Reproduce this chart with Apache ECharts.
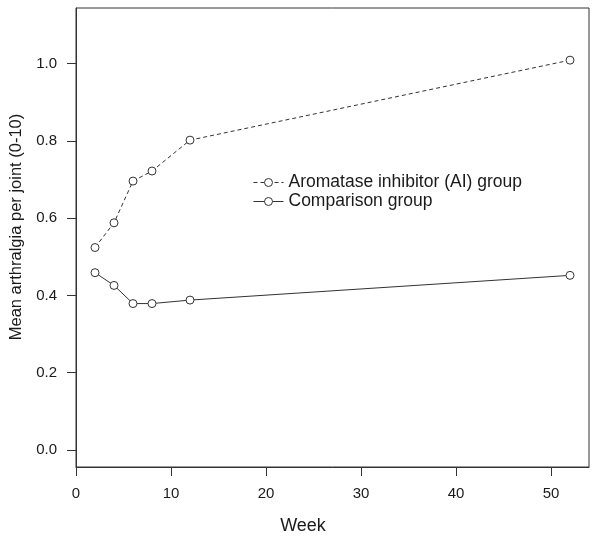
<!DOCTYPE html>
<html>
<head>
<meta charset="utf-8">
<script src="https://cdn.jsdelivr.net/npm/echarts@6/dist/echarts.min.js"></script>
<style>
html,body{margin:0;padding:0;background:#fff;}
#chart{width:600px;height:539px;}
</style>
</head>
<body>
<div id="chart"></div>
<script>
var weeks = [2, 4, 6, 8, 12, 52];
var aiGroup = [0.524, 0.588, 0.696, 0.722, 0.802, 1.009];
var comparisonGroup = [0.459, 0.426, 0.379, 0.379, 0.388, 0.452];
var seriesNames = ['Aromatase inhibitor (AI) group', 'Comparison group'];
var xTicks = [0, 10, 20, 30, 40, 50];
var yTicks = [0, 0.2, 0.4, 0.6, 0.8, 1.0];
var xTitle = 'Week';
var yTitle = 'Mean arthralgia per joint (0-10)';

function pairs(xs, ys) { return xs.map(function (x, i) { return [x, ys[i]]; }); }

var FONT = '"Liberation Sans", Arial, sans-serif';
var INK = '#333';
var TXT = '#1a1a1a';

var chart = echarts.init(document.getElementById('chart'), null, {renderer: 'canvas'});
chart.setOption({
  animation: false,
  backgroundColor: '#fff',
  textStyle: {fontFamily: FONT},
  grid: {left: 76, right: 11, top: 8, bottom: 72, show: true, borderColor: INK, borderWidth: 1, containLabel: false},
  xAxis: {
    type: 'value', min: 0, max: 54,
    axisLine: {show: true, onZero: false, lineStyle: {color: INK, width: 1}},
    axisTick: {show: true, length: 9, inside: false, customValues: xTicks, lineStyle: {color: INK}},
    axisLabel: {customValues: xTicks, margin: 19, fontSize: 15, color: TXT, fontFamily: FONT},
    splitLine: {show: false}
  },
  yAxis: {
    type: 'value', min: -0.044, max: 1.144,
    axisLine: {show: true, onZero: false, lineStyle: {color: INK, width: 1}},
    axisTick: {show: true, length: 9, inside: false, customValues: yTicks, lineStyle: {color: INK}},
    axisLabel: {customValues: yTicks, margin: 19, fontSize: 15, color: TXT, fontFamily: FONT,
      formatter: function (v) { return v.toFixed(1); }},
    splitLine: {show: false}
  },
  legend: {
    orient: 'vertical', left: 248, top: 168, itemWidth: 30, itemHeight: 10, itemGap: 0,
    lineStyle: {width: 1},
    itemStyle: {borderWidth: 1},
    textStyle: {fontSize: 17.5, color: TXT, fontFamily: FONT, lineHeight: 19},
    data: seriesNames
  },
  graphic: [
    {type: 'text', x: 303, y: 526, style: {text: xTitle, fontSize: 18, fill: TXT, fontFamily: FONT, align: 'center', verticalAlign: 'middle'}},
    {type: 'text', x: 16, y: 227, rotation: Math.PI / 2, style: {text: yTitle, fontSize: 16.5, fill: TXT, fontFamily: FONT, align: 'center', verticalAlign: 'middle'}}
  ],
  series: [
    {
      name: seriesNames[0], type: 'line', data: pairs(weeks, aiGroup),
      symbol: 'circle', symbolSize: 8,
      lineStyle: {color: INK, width: 1, type: [4, 3]},
      itemStyle: {color: '#fff', borderColor: INK, borderWidth: 1}
    },
    {
      name: seriesNames[1], type: 'line', data: pairs(weeks, comparisonGroup),
      symbol: 'circle', symbolSize: 8,
      lineStyle: {color: INK, width: 1, type: 'solid'},
      itemStyle: {color: '#fff', borderColor: INK, borderWidth: 1}
    }
  ]
});
</script>
</body>
</html>
